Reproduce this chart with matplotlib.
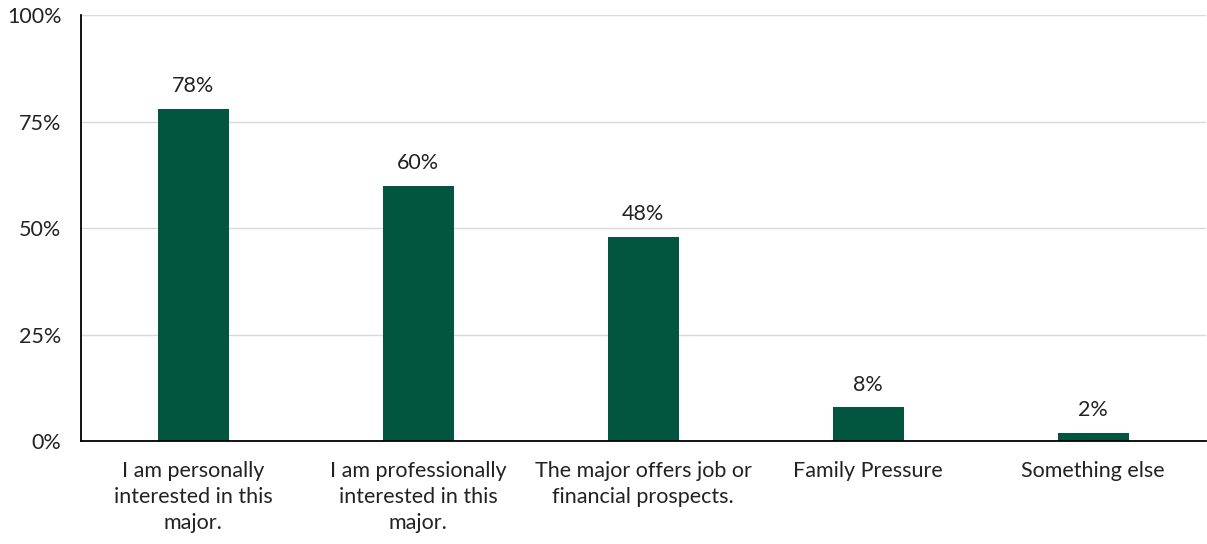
import matplotlib
matplotlib.use("Agg")
import matplotlib.pyplot as plt
from matplotlib.ticker import FuncFormatter

# values
categories = [
    "I am personally\ninterested in this\nmajor.",
    "I am professionally\ninterested in this\nmajor.",
    "The major offers job or\nfinancial prospects.",
    "Family Pressure",
    "Something else",
]
values = [78, 60, 48, 8, 2]
yticks = [0, 25, 50, 75, 100]

bar_color = "#02553E"

plt.rcParams["font.family"] = ["Lato", "DejaVu Sans"]

fig = plt.figure(figsize=(12.07, 5.44), dpi=100)
ax = fig.add_axes([0.067, 0.189, 0.932, 0.783])

x = range(len(categories))
bars = ax.bar(x, values, width=0.315, color=bar_color, zorder=3)

for b, v in zip(bars, values):
    ax.annotate(f"{v}%", (b.get_x() + b.get_width() / 2, v),
                xytext=(0, 9), textcoords="offset points",
                ha="center", va="bottom", fontsize=15.5, color="#222222")

ax.set_xlim(-0.5, len(categories) - 0.5)
ax.set_ylim(0, 100)
ax.set_yticks(yticks)
ax.yaxis.set_major_formatter(FuncFormatter(lambda v, p: f"{v:.0f}%"))
ax.set_xticks(list(x))
ax.set_xticklabels(categories, fontsize=15.5, color="#222222", linespacing=1.4)
ax.tick_params(axis="y", labelsize=15.5, labelcolor="#222222", length=0, pad=14)
ax.tick_params(axis="x", length=0, pad=14)

ax.grid(axis="y", color="#d9d9d9", linewidth=1, zorder=0)
for s in ["top", "right"]:
    ax.spines[s].set_visible(False)
ax.spines["left"].set_color("black")
ax.spines["left"].set_linewidth(1.3)
ax.spines["bottom"].set_color("black")
ax.spines["bottom"].set_linewidth(1.3)
ax.spines["bottom"].set_zorder(4)

fig.savefig("out.png", dpi=100)
